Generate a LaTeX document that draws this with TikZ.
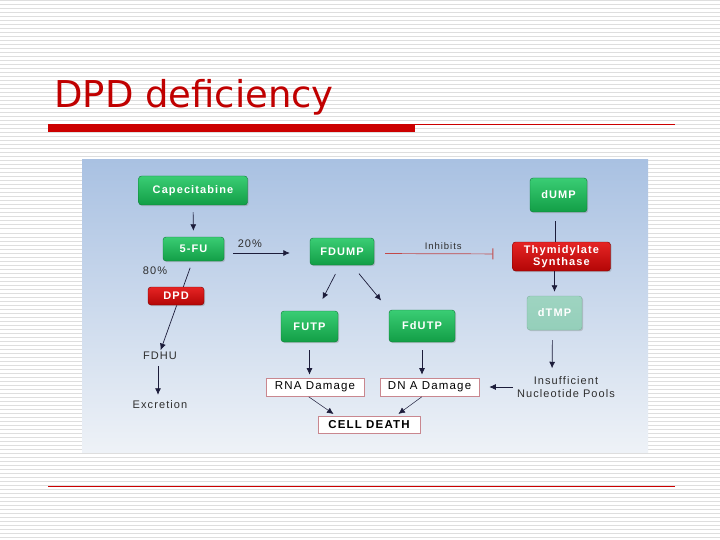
\documentclass[tikz,border=0pt]{standalone}
\usepackage{fontspec}
\usetikzlibrary{arrows.meta,shadows}

\newfontfamily\titlefont{DejaVu Sans}
\newfontfamily\boxfont[LetterSpace=10]{Liberation Sans}

\definecolor{titlered}{HTML}{C00000}
\definecolor{barred}{HTML}{CC0000}
\definecolor{stripegray}{HTML}{DEDEDE}
\definecolor{paneltop}{HTML}{A9C1E2}
\definecolor{panelbot}{HTML}{EEF2F7}
\definecolor{greentop}{HTML}{3ACD74}
\definecolor{greenbot}{HTML}{129E46}
\definecolor{greenline}{HTML}{0B7A36}
\definecolor{redtop}{HTML}{E62424}
\definecolor{redbot}{HTML}{B30606}
\definecolor{redline}{HTML}{780000}
\definecolor{paleteal}{HTML}{94CFBA}
\definecolor{pinkline}{HTML}{C9878F}
\definecolor{arrowink}{HTML}{1C1C3A}
\definecolor{inhibred}{HTML}{C24848}
\definecolor{labelink}{HTML}{2E2E2E}

\tikzset{
  greenbox/.style={rounded corners=3pt, draw=greenline, top color=greentop,
    bottom color=greenbot, text=white, inner sep=0pt,
    font=\boxfont\bfseries\fontsize{11}{12}\selectfont,
    drop shadow={opacity=0.35, shadow xshift=1.2pt, shadow yshift=-1.2pt}},
  redbox/.style={greenbox, draw=redline, top color=redtop, bottom color=redbot},
  palebox/.style={greenbox, draw=paleteal!85!black, top color=paleteal!90!white,
    bottom color=paleteal},
  damagebox/.style={draw=pinkline, fill=white, line width=0.6pt, inner sep=0pt,
    text=black, font=\boxfont\fontsize{11.5}{13}\selectfont},
  plainlabel/.style={text=labelink, inner sep=0pt,
    font=\boxfont\fontsize{11}{13}\selectfont},
  flow/.style={draw=arrowink, line width=0.7pt, -{Latex[length=6.5pt,width=6pt]}},
  stripe/.style={draw=stripegray, line width=1pt}
}

\begin{document}
\begin{tikzpicture}[x=1pt, y=-1pt]

  \useasboundingbox (0,0) rectangle (720,540);

  % Fond de la diapositive : lignes horizontales
  \fill[white] (0,0) rectangle (720,540);
  \foreach \s in {1,5,...,537} {
    \draw[stripe] (0,\s) -- (720,\s);
  }

  % Titre et filets rouges
  \node[anchor=base west, inner sep=0pt, text=titlered,
        font=\titlefont\fontsize{37}{40}\selectfont] (title) at (54,108) {DPD deficiency};
  \fill[barred] (48,124) rectangle (415,132);
  \draw[barred, line width=0.8pt] (415,124.4) -- (675,124.4);
  \draw[barred, line width=0.8pt] (48,486) -- (675,486);

  % ==============================================
  % Panneau du schema
  % ==============================================
  \shade[top color=paneltop, bottom color=panelbot] (82,160) rectangle (648,452);

  % Voie de gauche : capecitabine, 5-FU, catabolisme
  \node[greenbox, minimum width=109pt, minimum height=29pt] (cape) at (193,190.5) {Capecitabine};
  \node[greenbox, minimum width=61pt, minimum height=24pt] (fu) at (193.5,249) {5-FU};
  \node[plainlabel] (fdhu) at (160,356) {FDHU};
  \node[plainlabel] (excr) at (160,405) {Excretion};
  \node[plainlabel] (eighty) at (155,271) {80\%};

  % Le trait passe derriere DPD
  \draw[flow, shorten <=7pt, shorten >=2pt] ([xshift=-1pt]fu.south) -- (fdhu.north);
  \node[redbox, minimum width=56pt, minimum height=18pt] (dpd) at (176,296) {DPD};
  \draw[flow, shorten <=6pt, shorten >=6pt] ([xshift=-2pt]fdhu.south) -- ([xshift=-2pt]excr.north);

  % Voie centrale : FDUMP, FUTP, FdUTP
  \node[greenbox, minimum width=64pt, minimum height=27pt] (fdump) at (342,251.5) {FDUMP};
  \node[greenbox, minimum width=57pt, minimum height=31pt] (futp) at (309.5,326.5) {FUTP};
  \node[greenbox, minimum width=66pt, minimum height=32pt] (fdutp) at (422,326) {FdUTP};

  \draw[flow, shorten <=7pt, shorten >=6pt] (cape.south) -- (fu.north);
  \draw[flow, shorten <=9pt, shorten >=20pt] ([yshift=-4pt]fu.east) -- ([yshift=-1.5pt]fdump.west)
    node[plainlabel, pos=0.3, above=5pt] (twenty) {20\%};
  \draw[flow, shorten <=10pt, shorten >=13pt] ([xshift=-2pt]fdump.south) -- ([xshift=7pt]futp.north);
  \draw[flow, shorten <=11pt, shorten >=12pt] ([xshift=10pt]fdump.south) -- (fdutp.north west);

  % Voie de droite : thymidylate synthase
  \node[greenbox, minimum width=57pt, minimum height=34pt] (dump) at (558.5,195) {dUMP};
  \node[redbox, minimum width=98pt, minimum height=29pt, align=center] (ts) at (561.5,256.5)
    {Thymidylate\\[-0.5pt]Synthase};
  \node[palebox, minimum width=55pt, minimum height=34pt] (dtmp) at (554.5,313) {dTMP};
  \node[plainlabel, align=center] (pools) at (566,387) {Insufficient\\Nucleotide Pools};

  \draw[draw=arrowink, line width=0.7pt, shorten <=9pt] ([xshift=-3.5pt]dump.south) -- ([xshift=-3.5pt]dump.south |- ts.north);
  \draw[flow, shorten >=4pt] (dtmp.north |- ts.south) -- (dtmp.north);
  \draw[flow, shorten <=10pt, shorten >=8pt] ([xshift=-2pt]dtmp.south) -- ([xshift=-14pt]pools.north);

  % Inhibition de la TS par FDUMP
  \draw[draw=inhibred, line width=0.7pt, -{Bar[width=11pt, line width=0.9pt]},
        shorten <=11pt, shorten >=19pt] ([yshift=-2pt]fdump.east) -- ([yshift=2.5pt]ts.west)
    node[plainlabel, midway, above=4pt, font=\boxfont\fontsize{9.5}{10}\selectfont] (inhib) {Inhibits};

  % ==============================================
  % Dommages et mort cellulaire
  % ==============================================
  \node[damagebox, minimum width=98pt, minimum height=18pt] (rna) at (315,387) {RNA Damage};
  \node[damagebox, minimum width=99pt, minimum height=18pt] (dna) at (429.5,387) {DN A Damage};
  \node[damagebox, minimum width=102pt, minimum height=17pt,
        font=\boxfont\bfseries\fontsize{11.5}{13}\selectfont] (death) at (369,424.5) {CELL DEATH};

  \draw[flow, shorten <=8pt, shorten >=3pt] (futp.south) -- (futp.south |- rna.north);
  \draw[flow, shorten <=8pt, shorten >=3pt] (fdutp.south) -- (fdutp.south |- dna.north);
  \draw[flow, shorten <=4pt, shorten >=10pt] (pools.west |- dna.east) -- (dna.east);
  \draw[flow, line width=0.5pt, shorten <=1pt, shorten >=3pt] ([xshift=-7pt]rna.south) -- ([xshift=-33pt]death.north);
  \draw[flow, line width=0.5pt, shorten <=1pt, shorten >=3pt] ([xshift=-7pt]dna.south) -- ([xshift=27pt]death.north);

\end{tikzpicture}
\end{document}
